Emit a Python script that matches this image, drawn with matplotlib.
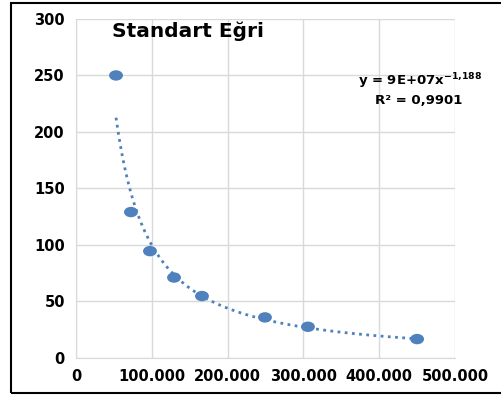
import numpy as np
import matplotlib.pyplot as plt
from matplotlib.patches import Rectangle
from matplotlib.path import Path
from matplotlib.transforms import Affine2D
from matplotlib.ticker import FuncFormatter

# Standard curve points
x_vals = [52800, 72500, 97600, 129300, 166200, 249300, 306000, 450000]
y_vals = [250, 129, 94.4, 71, 54.6, 35.7, 27.4, 16.5]

title_text = "Standart Eğri"
eq_text = "y = 9E+07x$^{\\mathbf{-1{,}188}}$"
r2_text = "R² = 0,9901"

blue = "#4f81bd"

fig = plt.figure(figsize=(5.01, 3.96), dpi=100)
ax = fig.add_axes([76 / 501, 1 - 357.7 / 396, (455 - 76) / 501, (357.7 - 19) / 396])

# Power trendline fitted from the points
xs = np.array(x_vals, dtype=float)
ys = np.array(y_vals, dtype=float)
b, log_a = np.polyfit(np.log(xs), np.log(ys), 1)
x_fit = np.linspace(xs.min(), xs.max(), 300)
y_fit = np.exp(log_a) * x_fit ** b
ax.plot(x_fit, y_fit, linestyle=(0, (1, 1.6)), color=blue, linewidth=2, zorder=2)

# slightly flattened markers, like the stretched Excel chart
ellipse = Path.unit_circle().transformed(Affine2D().scale(1, 0.75))
ax.scatter(x_vals, y_vals, s=100, marker=ellipse, color=blue, zorder=3, edgecolors="none")

ax.set_xlim(0, 500000)
ax.set_ylim(0, 300)
ax.set_xticks(range(0, 500001, 100000))
ax.set_yticks(range(0, 301, 50))
ax.xaxis.set_major_formatter(FuncFormatter(lambda v, p: f"{int(v):,}".replace(",", ".")))
ax.grid(True, color="#d9d9d9", linewidth=1)
ax.set_axisbelow(True)
for side in ["top", "right"]:
    ax.spines[side].set_visible(False)
for side in ["left", "bottom"]:
    ax.spines[side].set_color("#d9d9d9")
ax.tick_params(length=0, labelsize=10.5, pad=8)
for lab in ax.get_xticklabels() + ax.get_yticklabels():
    lab.set_fontweight("bold")

fig.text(188 / 501, 1 - 31 / 396, title_text, fontsize=14.5, fontweight="bold",
         ha="center", va="center")
fig.text(420 / 501, 1 - 81 / 396, eq_text, fontsize=9.5, fontweight="bold",
         ha="center", va="center")
fig.text(419 / 501, 1 - 100 / 396, r2_text, fontsize=9.5, fontweight="bold",
         ha="center", va="center")

# Outer chart frame
fig.patches.append(Rectangle((11 / 501, 3 / 396), 1.2, 390 / 396, transform=fig.transFigure,
                             fill=False, edgecolor="black", linewidth=1.5))

fig.savefig("out.png", dpi=100)
